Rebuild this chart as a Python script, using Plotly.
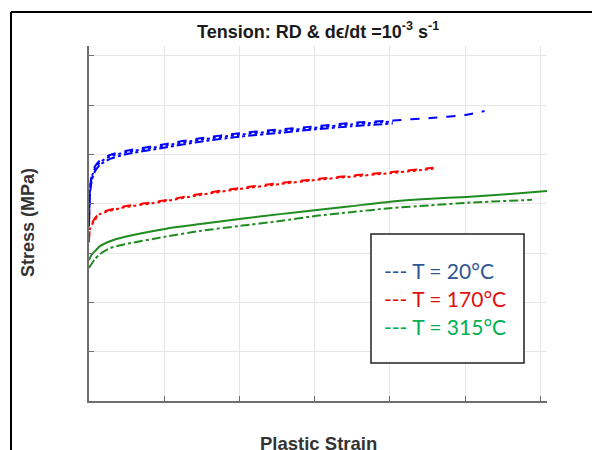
import plotly.graph_objects as go

# ---- data ----
blue_x = [0, 0.0007, 0.002, 0.004, 0.0073, 0.014, 0.024, 0.0505, 0.074, 0.100, 0.127, 0.150, 0.174, 0.202]
blue1_y = [360, 430, 456, 472, 484, 496, 504, 518, 530, 540, 548, 554, 561, 567]
blue2_y = [354, 422, 449, 466, 479, 491, 500, 514, 526, 536, 544, 551, 557, 563]
blue3_x = [0, 0.0007, 0.002, 0.004, 0.0073, 0.014, 0.024, 0.0505, 0.074, 0.100, 0.127, 0.150, 0.174, 0.202, 0.227, 0.250, 0.263]
blue3_y = [364, 434, 460, 476, 488, 499, 507, 521, 533, 543, 551, 557, 564, 569, 574, 580, 588]

red_x = [0, 0.0007, 0.004, 0.0073, 0.0206, 0.0505, 0.074, 0.100, 0.127, 0.150, 0.174, 0.200, 0.229]
red1_y = [326, 352, 371, 381, 393, 407, 420, 432, 442, 450, 457, 464, 473]
red2_y = [322, 349, 368, 379, 391, 405, 418, 430, 440, 448, 455, 462, 471]

green1_x = [0, 0.002, 0.004, 0.0073, 0.014, 0.024, 0.0505, 0.074, 0.100, 0.127, 0.150, 0.174, 0.200, 0.227, 0.251, 0.280, 0.305]
green1_y = [286, 298, 304, 314, 324, 333, 349, 359, 369, 379, 387, 395, 404, 410, 414, 420, 426]
green2_x = [0, 0.004, 0.0073, 0.014, 0.024, 0.0505, 0.074, 0.100, 0.127, 0.150, 0.174, 0.200, 0.227, 0.251, 0.2945]
green2_y = [270, 288, 298, 310, 318, 333, 345, 355, 365, 375, 383, 391, 397, 402, 408]

legend_labels = ["--- T = 20°C", "--- T = 170°C", "--- T = 315°C"]
legend_colors = ["#2F5597", "#E01010", "#00B050"]

BLUE = "#0000FF"
RED = "#FF0000"
GREEN = "#1E8C1E"


def line(color, dash=None):
    d = dict(color=color, width=2, shape="spline", smoothing=0.6)
    if dash:
        d["dash"] = dash
    return d


fig = go.Figure()
fig.add_trace(go.Scatter(x=blue_x, y=blue2_y, mode="lines", line=line(BLUE, "dashdot")))
fig.add_trace(go.Scatter(x=blue_x, y=blue1_y, mode="lines", line=line(BLUE, "dot")))
fig.add_trace(go.Scatter(x=blue3_x, y=blue3_y, mode="lines", line=line(BLUE, "dash")))
fig.add_trace(go.Scatter(x=red_x, y=red1_y, mode="lines", line=line(RED, "dash")))
fig.add_trace(go.Scatter(x=red_x, y=red2_y, mode="lines", line=line(RED, "dot")))
fig.add_trace(go.Scatter(x=green1_x, y=green1_y, mode="lines", line=line(GREEN)))
fig.add_trace(go.Scatter(x=green2_x, y=green2_y, mode="lines", line=line(GREEN, "dashdot")))

axis_common = dict(
    showgrid=True, gridcolor="#E6E6E6", gridwidth=1,
    showline=True, linecolor="#6E6E6E", linewidth=1.5,
    ticks="inside", ticklen=5, tickcolor="#6E6E6E",
    showticklabels=False, zeroline=False, mirror=False,
)

fig.update_layout(
    width=592, height=450,
    margin=dict(l=89, r=45, t=46, b=49),
    paper_bgcolor="white", plot_bgcolor="white",
    showlegend=False,
    xaxis=dict(range=[0, 0.3045], dtick=0.05, tick0=0, **axis_common),
    yaxis=dict(range=[0, 720], dtick=100, tick0=0, **axis_common),
)

annotations = [
    dict(text="<b>Tension: RD &amp; d\u03f5/dt =10<sup>-3</sup> s<sup>-1</sup></b>",
         x=0.5, y=1.043, xref="paper", yref="paper", xanchor="center", yanchor="middle",
         showarrow=False, font=dict(family="Liberation Sans", size=18, color="#1a1a1a")),
    dict(text="<b>Stress (MPa)</b>", x=-0.1332, y=0.504, xref="paper", yref="paper",
         xanchor="center", yanchor="middle", textangle=-90, showarrow=False,
         font=dict(family="Liberation Sans", size=18, color="#333333")),
    dict(text="<b>Plastic Strain</b>", x=0.5, y=-0.119, xref="paper", yref="paper",
         xanchor="center", yanchor="middle", showarrow=False,
         font=dict(family="Liberation Sans", size=18.5, color="#333333")),
]
for i, (lab, col) in enumerate(zip(legend_labels, legend_colors)):
    annotations.append(dict(text=lab, x=0.6397, y=[0.369, 0.290, 0.211][i], xref="paper", yref="paper",
                            xanchor="left", yanchor="middle", showarrow=False,
                            font=dict(family="Lato", size=21, color=col)))
fig.update_layout(annotations=annotations)

shapes = [
    dict(type="rect", xref="paper", yref="paper", x0=0.6157, x1=0.9498, y0=0.107, y1=0.4704,
         line=dict(color="#222222", width=1.5), fillcolor="white", layer="above"),
    dict(type="line", xref="paper", yref="paper", x0=-0.1703, x1=-0.1703, y0=-0.3, y1=1.0958,
         line=dict(color="black", width=2)),
    dict(type="line", xref="paper", yref="paper", x0=-0.1703, x1=1.2, y0=1.0958, y1=1.0958,
         line=dict(color="black", width=2)),
]
fig.update_layout(shapes=shapes)

fig.write_html("out.html")
